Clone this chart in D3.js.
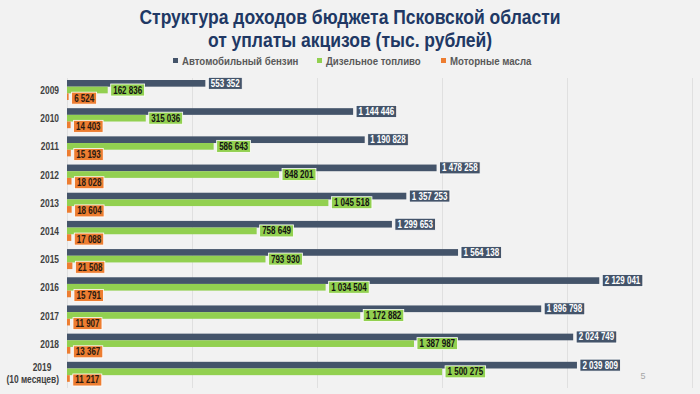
<!DOCTYPE html>
<html>
<head>
<meta charset="utf-8">
<title>Акцизы</title>
<script src="https://d3js.org/d3.v7.min.js"></script>
<style>
  html, body { margin: 0; padding: 0; background: #f2f2f2; }
  svg { display: block; }
  text { font-family: "Liberation Sans", Arial, sans-serif; }
</style>
</head>
<body>
<div id="chart"></div>
<script>
// data
var years = ["2009", "2010", "2011", "2012", "2013", "2014", "2015", "2016", "2017", "2018", "2019|(10 месяцев)"];
var petrol = [553352, 1144446, 1190828, 1478258, 1357253, 1299653, 1564138, 2129041, 1896798, 2024749, 2039809];
var diesel = [162836, 315036, 586643, 848201, 1045518, 758649, 793930, 1034504, 1172882, 1387987, 1500275];
var oils = [6524, 14403, 15193, 18028, 18604, 17088, 21508, 15791, 11907, 13367, 11217];
var seriesNames = ["Автомобильный бензин", "Дизельное топливо", "Моторные масла"];
var xTicks = [0, 500000, 1000000, 1500000, 2000000, 2500000];

var colors = ["#44546a", "#92d050", "#ed7d31"];
var labelColors = ["#ffffff", "#111111", "#2a1a10"];

var width = 700, height = 394;
var narrow = 0.8; // the slide uses a condensed face, squeeze the text a bit

var svg = d3.select("#chart").append("svg")
  .attr("width", width)
  .attr("height", height);

svg.append("rect").attr("width", width).attr("height", height).attr("fill", "#f2f2f2");

function squeezed(parent, px, py, s) {
  return parent.append("text")
    .attr("transform", "translate(" + px + "," + py + ") scale(" + s + ",1)");
}

// title
var titleLines = ["Структура доходов бюджета Псковской области", "от уплаты акцизов (тыс. рублей)"];
titleLines.forEach(function(line, i) {
  squeezed(svg, 350, 24 + i * 23, 0.875)
    .attr("text-anchor", "middle")
    .attr("fill", "#203864")
    .attr("font-size", 20)
    .attr("font-weight", "bold")
    .text(line);
});

// legend
var legendX = [173, 317, 441];
seriesNames.forEach(function(name, i) {
  svg.append("rect")
    .attr("x", legendX[i]).attr("y", 58)
    .attr("width", 5).attr("height", 5)
    .attr("fill", colors[i]);
  squeezed(svg, legendX[i] + 9, 64.5, 0.84)
    .attr("font-size", 11.5)
    .attr("font-weight", "bold")
    .attr("fill", "#595959")
    .text(name);
});

// scales
var x = d3.scaleLinear().domain([0, 2500000]).range([67, 692]);
var y = d3.scaleBand().domain(years).range([78, 388]).padding(0);
var sub = d3.scaleBand().domain([0, 1, 2]).range([2, 22]).padding(0);

// grid
svg.append("g").selectAll("line")
  .data(xTicks)
  .enter().append("line")
  .attr("x1", function(d) { return x(d) + 0.5; })
  .attr("x2", function(d) { return x(d) + 0.5; })
  .attr("y1", 78).attr("y2", 388)
  .attr("stroke", "#e0e0e0")
  .attr("stroke-width", 1);

// category labels
var catG = svg.append("g");
years.forEach(function(d) {
  var parts = d.split("|");
  var c = y(d) + y.bandwidth() / 2 - 2;
  if (parts.length === 1) {
    squeezed(catG, 59, c + 4, narrow)
      .attr("text-anchor", "end").attr("font-size", 10.5)
      .attr("font-weight", "bold").attr("fill", "#404040")
      .text(parts[0]);
  } else {
    squeezed(catG, 42, c - 1, narrow)
      .attr("text-anchor", "middle").attr("font-size", 10.5)
      .attr("font-weight", "bold").attr("fill", "#404040")
      .text(parts[0]);
    squeezed(catG, 59, c + 11, narrow)
      .attr("text-anchor", "end").attr("font-size", 10.5)
      .attr("font-weight", "bold").attr("fill", "#404040")
      .text(parts[1]);
  }
});

var fmt = function(v) { return d3.format(",")(v).replace(/,/g, " "); };

var rows = years.map(function(yr, i) {
  return { year: yr, vals: [petrol[i], diesel[i], oils[i]] };
});

var groups = svg.append("g").selectAll("g")
  .data(rows)
  .enter().append("g")
  .attr("transform", function(d) { return "translate(0," + y(d.year) + ")"; });

var bars = groups.selectAll("g.bar")
  .data(function(d) { return d.vals.map(function(v, k) { return { v: v, k: k }; }); })
  .enter().append("g").attr("class", "bar");

bars.append("rect")
  .attr("x", x(0))
  .attr("y", function(d) { return sub(d.k); })
  .attr("width", function(d) { return Math.max(x(d.v) - x(0), 0); })
  .attr("height", sub.bandwidth())
  .attr("fill", function(d) { return colors[d.k]; });

// value labels in coloured boxes
bars.each(function(d) {
  var g = d3.select(this);
  var cy = sub(d.k) + sub.bandwidth() / 2 + (d.k === 2 ? 1.5 : 0);
  var lx = x(d.v) + 3;
  var box = g.append("rect")
    .attr("fill", colors[d.k])
    .attr("stroke", "#ffffff")
    .attr("stroke-width", 0.8);
  var t = squeezed(g, lx + 2.5, cy + 3.5, 0.8)
    .attr("font-size", 10)
    .attr("font-weight", "bold")
    .attr("fill", labelColors[d.k])
    .text(fmt(d.v));
  var w = t.node().getComputedTextLength() * 0.8;
  box.attr("x", lx).attr("y", cy - 6).attr("width", w + 5).attr("height", 12);
});

// slide number
svg.append("text")
  .attr("x", 643).attr("y", 379)
  .attr("text-anchor", "middle")
  .attr("font-size", 9)
  .attr("fill", "#a6a6a6")
  .text("5");
</script>
</body>
</html>
